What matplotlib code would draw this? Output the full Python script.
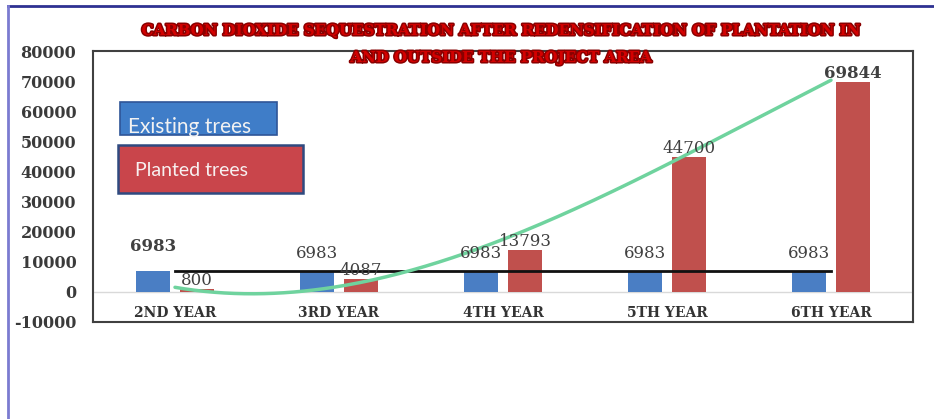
import numpy as np
import matplotlib
matplotlib.use("Agg")
import matplotlib.pyplot as plt
import matplotlib.patheffects as pe
from matplotlib.patches import Rectangle
from matplotlib.lines import Line2D

# ===== DATA =====
years = ["2ND YEAR", "3RD YEAR", "4TH YEAR", "5TH YEAR", "6TH YEAR"]
existing = [6983, 6983, 6983, 6983, 6983]
planted = [800, 4087, 13793, 44700, 69844]
yticks = [-10000, 0, 10000, 20000, 30000, 40000, 50000, 60000, 70000, 80000]
title_lines = ["CARBON DIOXIDE SEQUESTRATION AFTER REDENSIFICATION OF PLANTATION IN",
               "AND OUTSIDE THE PROJECT AREA"]
legend_labels = ["Existing trees", "Planted trees"]

BLUE = "#4a7ec4"
RED = "#c0504d"
GREEN = "#6fd39e"

W, H = 934, 419
fig = plt.figure(figsize=(W / 100, H / 100), dpi=100)


def fx(x):
    return x / W


def fy(y):
    return 1 - y / H


# page decorations
fig.add_artist(Line2D([fx(8), 1], [fy(6), fy(6)], color="#2e3192", lw=2))
fig.add_artist(Line2D([fx(8), fx(8)], [0, fy(6)], color="#7b7bd0", lw=2))

ax = fig.add_axes([fx(93), fy(321.5), fx(913) - fx(93), fy(51.5) - fy(321.5)])

x = np.arange(len(years))
w = 0.207
off = 0.134

ax.bar(x - off, existing, w, color=BLUE, zorder=2)
ax.bar(x + off, planted, w, color=RED, zorder=2)
ax.axhline(0, color="#d9d9d9", lw=1, zorder=1)

# trendlines
lin = np.polyfit(x, existing, 1)
ax.plot(x, np.polyval(lin, x), color="#111111", lw=2, zorder=4)
cub = np.polyfit(x, planted, 3)
xs = np.linspace(0, 4, 200)
ax.plot(xs, np.polyval(cub, xs), color=GREEN, lw=2.5, zorder=4, solid_capstyle="round")

# data labels
lab = dict(family="DejaVu Serif", fontsize=12, color="#404040", ha="center", va="baseline",
           textcoords="offset points", zorder=5)
for i, v in enumerate(existing):
    ax.annotate(str(v), (x[i] - off, v), xytext=(0, 14 if i == 0 else 9),
                fontweight="bold" if i == 0 else "normal", **lab)
for i, v in enumerate(planted):
    ax.annotate(str(v), (x[i] + off, v), xytext=(0, 3),
                fontweight="bold" if i == 4 else "normal", **lab)

# category labels inside the box
for i, name in enumerate(years):
    ax.text(x[i], 0.031, name, transform=ax.get_xaxis_transform(), ha="center", va="center",
            family="DejaVu Serif", fontweight="bold", fontsize=10, color="#333333")

ax.set_xlim(-0.5, 4.5)
ax.set_ylim(-10000, 80000)
ax.set_xticks([])
ax.set_yticks(yticks)
ax.set_yticklabels([str(t) for t in yticks], family="DejaVu Serif", fontweight="bold",
                   fontsize=11.5, color="#3a3a3a")
ax.tick_params(axis="y", length=0, pad=12)
for s in ax.spines.values():
    s.set_color("#404040")
    s.set_linewidth(1.5)

# legend boxes
fig.add_artist(Rectangle((fx(120), fy(135)), fx(277) - fx(120), fy(102) - fy(135),
                         transform=fig.transFigure, facecolor="#3f7dc8", edgecolor="#2f5597", lw=1.2))
fig.text(fx(128), fy(133), legend_labels[0], family="Lato", fontsize=15, color="#f2f2f2",
         ha="left", va="baseline")
fig.add_artist(Rectangle((fx(118), fy(193)), fx(303) - fx(118), fy(145) - fy(193),
                         transform=fig.transFigure, facecolor="#c9454b", edgecolor="#2f4a80", lw=1.8))
fig.text(fx(135), fy(170), legend_labels[1], family="Lato", fontsize=14, color="#f7f0f0",
         ha="left", va="center")

# title
for k, line in enumerate(title_lines):
    fig.text(fx(501), fy(31 + 27 * k), line, ha="center", va="center", family="DejaVu Serif",
             fontweight="bold", fontsize=10.8, color="#d40000", zorder=10,
             path_effects=[pe.withStroke(linewidth=2.2, foreground="#8a0000")])

fig.savefig("out.png", dpi=100)
